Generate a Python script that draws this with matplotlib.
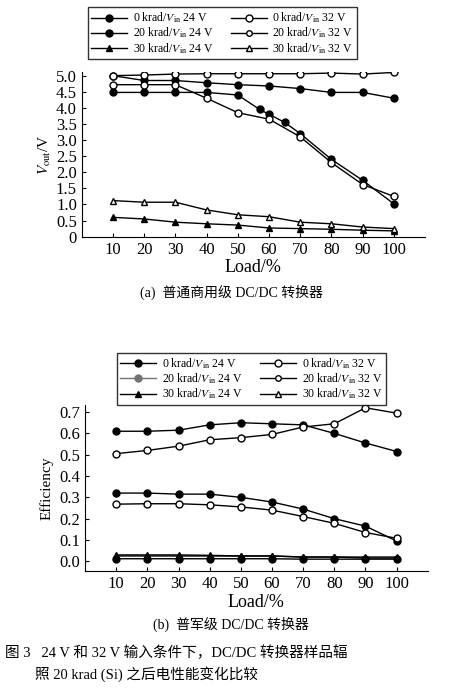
import numpy as np
import matplotlib.pyplot as plt
from matplotlib.lines import Line2D

plt.rcParams['font.family'] = ['Liberation Serif', 'Noto Sans CJK SC', 'DejaVu Sans']
plt.rcParams['mathtext.fontset'] = 'stix'

load = [10, 20, 30, 40, 50, 60, 70, 80, 90, 100]
load_b = [10, 20, 30, 40, 50, 57, 60, 65, 70, 80, 90, 100]

# top panel: Vout
v_0k_24 = [5.0, 4.85, 4.85, 4.78, 4.72, 4.68, 4.6, 4.48, 4.48, 4.3]
v_0k_32 = [5.0, 5.02, 5.05, 5.06, 5.06, 5.06, 5.06, 5.08, 5.05, 5.1]
v_20k_24 = [4.48, 4.48, 4.48, 4.48, 4.4, 3.95, 3.8, 3.55, 3.2, 2.4, 1.75, 1.02]
v_20k_32 = [4.72, 4.72, 4.72, 4.3, 3.85, 3.65, 3.1, 2.3, 1.62, 1.25]
v_30k_24 = [0.6, 0.55, 0.45, 0.4, 0.36, 0.27, 0.25, 0.23, 0.2, 0.18]
v_30k_32 = [1.12, 1.07, 1.07, 0.83, 0.68, 0.62, 0.45, 0.4, 0.3, 0.25]

# bottom panel: efficiency
e_0k_24 = [0.61, 0.61, 0.615, 0.64, 0.65, 0.645, 0.64, 0.60, 0.555, 0.515]
e_0k_32 = [0.505, 0.52, 0.54, 0.57, 0.58, 0.595, 0.63, 0.645, 0.72, 0.695]
e_20k_24 = [0.32, 0.32, 0.315, 0.315, 0.30, 0.278, 0.245, 0.20, 0.165, 0.095]
e_20k_32 = [0.268, 0.27, 0.27, 0.265, 0.255, 0.24, 0.21, 0.178, 0.135, 0.108]
e_30k_24 = [0.03, 0.03, 0.03, 0.028, 0.025, 0.025, 0.02, 0.02, 0.02, 0.02]
e_30k_32 = [0.025, 0.025, 0.025, 0.025, 0.025, 0.025, 0.02, 0.02, 0.015, 0.015]
e_low = [0.012, 0.012, 0.012, 0.012, 0.012, 0.012, 0.01, 0.01, 0.01, 0.01]

labels = [r'0 krad/$V_{\rm in}$ 24 V', r'0 krad/$V_{\rm in}$ 32 V',
          r'20 krad/$V_{\rm in}$ 24 V', r'20 krad/$V_{\rm in}$ 32 V',
          r'30 krad/$V_{\rm in}$ 24 V', r'30 krad/$V_{\rm in}$ 32 V']

fig = plt.figure(figsize=(4.62, 6.9), dpi=100)

def style(ax, ylim, yticks, fmt):
    ax.set_xlim(0, 110)
    ax.set_ylim(*ylim)
    ax.set_xticks(load)
    ax.set_yticks(yticks)
    ax.set_yticklabels([fmt(t) for t in yticks], fontsize=12)
    ax.tick_params(axis='x', labelsize=12, direction='in', length=3)
    ax.tick_params(axis='y', direction='in', length=3)
    ax.spines['top'].set_visible(False)
    ax.spines['right'].set_visible(False)
    ax.set_xlabel('Load/%', fontsize=13, labelpad=1)

def legend(ax, gray, loc):
    hs = [Line2D([], [], color='k', marker='o', mfc='k', ms=5, lw=1),
          Line2D([], [], color='k', marker='o', mfc='w', ms=5, lw=1),
          Line2D([], [], color=gray, marker='o', mfc=gray, mec=gray, ms=5, lw=1),
          Line2D([], [], color='k', marker='o', mfc='w', ms=4, lw=1),
          Line2D([], [], color='k', marker='^', mfc='k', ms=5, lw=1),
          Line2D([], [], color='k', marker='^', mfc='w', ms=5, lw=1)]
    order = [0, 2, 4, 1, 3, 5]
    fig.legend([hs[i] for i in order], [labels[i] for i in order], ncol=2,
               bbox_to_anchor=loc, loc='upper left', fontsize=8.5, frameon=True,
               fancybox=False, edgecolor='k', handlelength=3, labelspacing=0.05,
               borderpad=0.3, columnspacing=1.5, handletextpad=0.5)

# (a)
ax1 = fig.add_axes([0.177, 0.657, 0.743, 0.238])
kw = dict(color='k', lw=1, ms=5)
ax1.plot(load, v_0k_24, marker='o', mfc='k', **kw)
ax1.plot(load, v_0k_32, marker='o', mfc='w', **kw)
ax1.plot(load_b, v_20k_24, marker='o', mfc='k', **kw)
ax1.plot(load, v_20k_32, marker='o', mfc='w', **kw)
ax1.plot(load, v_30k_24, marker='^', mfc='k', **kw)
ax1.plot(load, v_30k_32, marker='^', mfc='w', **kw)
style(ax1, (0, 5.1), np.arange(0, 5.01, 0.5), lambda t: '0' if t == 0 else f'{t:.1f}')
ax1.set_ylabel(r'$V_{\rm out}$/V', fontsize=11, labelpad=2)
legend(ax1, 'k', (0.177, 0.998))
fig.text(0.5, 0.57, '(a)  普通商用级 DC/DC 转换器', ha='center', fontsize=10)

# (b)
ax2 = fig.add_axes([0.184, 0.172, 0.742, 0.241])
ax2.plot(load, e_0k_24, marker='o', mfc='k', **kw)
ax2.plot(load, e_0k_32, marker='o', mfc='w', **kw)
ax2.plot(load, e_20k_24, marker='o', mfc='k', **kw)
ax2.plot(load, e_20k_32, marker='o', mfc='w', **kw)
ax2.plot(load, e_30k_24, marker='^', mfc='k', **kw)
ax2.plot(load, e_30k_32, marker='^', mfc='w', **kw)
ax2.plot(load, e_low, marker='o', mfc='k', **kw)
style(ax2, (-0.047, 0.733), np.arange(0, 0.71, 0.1), lambda t: f'{t:.1f}')
ax2.set_ylabel('Efficiency', fontsize=11, labelpad=4)
legend(ax2, '0.45', (0.24, 0.497))
fig.text(0.5, 0.088, '(b)  普军级 DC/DC 转换器', ha='center', fontsize=10)

fig.text(0.01, 0.048, '图 3   24 V 和 32 V 输入条件下，DC/DC 转换器样品辐', fontsize=10.5)
fig.text(0.075, 0.016, '照 20 krad (Si) 之后电性能变化比较', fontsize=10.5)

fig.savefig('out.png', dpi=100)
